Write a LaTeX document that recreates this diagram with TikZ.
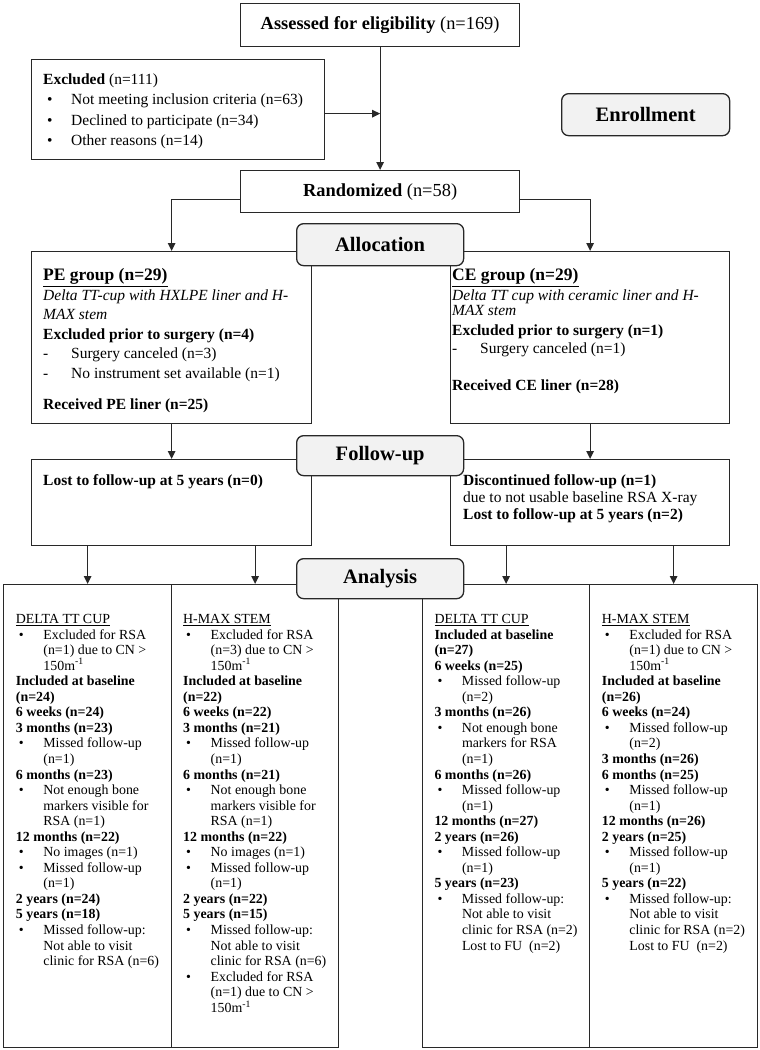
\documentclass[tikz,border=0pt]{standalone}
\usepackage{fontspec}
\setmainfont{Liberation Serif}
\usetikzlibrary{arrows.meta}
\definecolor{hdrfill}{RGB}{242,242,242}
\definecolor{ln}{RGB}{40,40,40}
\newcommand{\xb}[1]{\hspace*{4pt}\makebox[24pt][l]{\textbullet}#1}
\newcommand{\xd}[1]{\makebox[28pt][l]{-}#1}
\newcommand{\bb}[1]{\hspace*{3pt}\makebox[24.5pt][l]{\textbullet}#1}
\newcommand{\ci}[1]{\hspace*{27.5pt}#1}
\newcommand{\cnx}{150m\textsuperscript{-1}}
\begin{document}
\begin{tikzpicture}[x=1pt,y=-1pt,
 box/.style={draw=ln, line width=1.3pt, inner sep=0pt, anchor=north west},
 hdr/.style={draw=ln, line width=1.3pt, fill=hdrfill, rounded corners=7pt, anchor=north west, inner sep=0pt, font=\fontsize{20.5}{24}\selectfont\bfseries},
 arr/.style={draw=ln, line width=1.3pt, -{Triangle[length=8pt,width=7.5pt]}},
 tx/.style={anchor=north west, inner sep=0pt, align=left},
 big/.style={font=\fontsize{18.4}{22}\selectfont},
 sm/.style={font=\fontsize{13.9}{15.55}\selectfont}]
\useasboundingbox (0,0) rectangle (760,1050);

% boxes
\node[box, big, minimum width=279, minimum height=43] (assess) at (240,3) {\textbf{Assessed for eligibility} (n=169)};
\node[box, minimum width=293, minimum height=100] (excl) at (31,59) {};
\node[box, big, minimum width=279, minimum height=42] (rand) at (240,170) {\textbf{Randomized} (n=58)};
\node[box, minimum width=280, minimum height=172] (pe) at (31,251) {};
\node[box, minimum width=279, minimum height=172] (ce) at (450,251) {};
\node[box, minimum width=280, minimum height=86] (fuL) at (31,459) {};
\node[box, minimum width=279, minimum height=86] (fuR) at (450,459) {};
\node[box, minimum width=168, minimum height=463] (c1) at (3,584) {};
\node[box, minimum width=167, minimum height=463] (c2) at (171,584) {};
\node[box, minimum width=167, minimum height=463] (c3) at (422,584) {};
\node[box, minimum width=168, minimum height=463] (c4) at (589,584) {};

% connectors
\coordinate (jn) at ([yshift=-4pt]excl.east -| assess.south);
\draw[arr] (assess.south) -- (rand.north);
\draw[arr] ([yshift=-4pt]excl.east) -- (jn);
\draw[arr] ([yshift=-8pt]rand.west) -| (pe.north);
\draw[arr] ([yshift=-8pt]rand.east) -| (ce.north);
\draw[arr] (pe.south) -- (fuL.north);
\draw[arr] (ce.south) -- (fuR.north);
\draw[arr] (c1.north |- fuL.south) -- (c1.north);
\draw[arr] (c2.north |- fuL.south) -- (c2.north);
\draw[arr] (c3.north |- fuR.south) -- (c3.north);
\draw[arr] (c4.north |- fuR.south) -- (c4.north);

% texts
\node[tx, font=\fontsize{15.5}{20.5}\selectfont] (exT) at (43,73.2) {\textbf{Excluded} (n=111)\\
 \xb{Not meeting inclusion criteria (n=63)}\\
 \xb{Declined to participate (n=34)}\\
 \xb{Other reasons (n=14)}};

\node[tx, font=\fontsize{15.5}{19.5}\selectfont] (peT) at (43,268.6) {{\fontsize{17.5}{19.5}\selectfont\bfseries\underline{PE group (n=29)}}\\
 \textit{Delta TT-cup with HXLPE liner and H-}\\
 \textit{MAX stem}\\
 \textbf{Excluded prior to surgery (n=4)}\\
 \xd{Surgery canceled (n=3)}\\
 \xd{No instrument set available (n=1)}\\[12pt]
 \textbf{Received PE liner (n=25)}};

\node[tx, font=\fontsize{15.5}{19}\selectfont] (ceT) at (452,268.6) {{\fontsize{17.5}{19}\selectfont\bfseries\underline{CE group (n=29)}}\\[0.3pt]
 \textit{Delta TT cup with ceramic liner and H-}\\[-4pt]
 \textit{MAX stem}\\[1pt]
 \textbf{Excluded prior to surgery (n=1)}\\[-0.7pt]
 \xd{Surgery canceled (n=1)}\\[17.7pt]
 \textbf{Received CE liner (n=28)}};

\node[tx, font=\fontsize{15.5}{19.5}\selectfont] (fuLT) at (43,474.2) {\textbf{Lost to follow-up at 5 years (n=0)}};
\node[tx, font=\fontsize{15.5}{17}\selectfont] (fuRT) at (463,474.2) {\textbf{Discontinued follow-up (n=1)}\\
 due to not usable baseline RSA X-ray\\
 \textbf{Lost to follow-up at 5 years (n=2)}};

\node[tx, sm] (c1T) at (15.7,614.1) {\underline{DELTA TT CUP}\\
 \bb{Excluded for RSA}\\
 \ci{(n=1) due to CN >}\\
 \ci{\cnx}\\
 \textbf{Included at baseline}\\
 \textbf{(n=24)}\\
 \textbf{6 weeks (n=24)}\\
 \textbf{3 months (n=23)}\\
 \bb{Missed follow-up}\\
 \ci{(n=1)}\\
 \textbf{6 months (n=23)}\\
 \bb{Not enough bone}\\
 \ci{markers visible for}\\
 \ci{RSA (n=1)}\\
 \textbf{12 months (n=22)}\\
 \bb{No images (n=1)}\\
 \bb{Missed follow-up}\\
 \ci{(n=1)}\\
 \textbf{2 years (n=24)}\\
 \textbf{5 years (n=18)}\\
 \bb{Missed follow-up:}\\
 \ci{Not able to visit}\\
 \ci{clinic for RSA (n=6)}};

\node[tx, sm] (c2T) at (183,614.1) {\underline{H-MAX STEM}\\
 \bb{Excluded for RSA}\\
 \ci{(n=3) due to CN >}\\
 \ci{\cnx}\\
 \textbf{Included at baseline}\\
 \textbf{(n=22)}\\
 \textbf{6 weeks (n=22)}\\
 \textbf{3 months (n=21)}\\
 \bb{Missed follow-up}\\
 \ci{(n=1)}\\
 \textbf{6 months (n=21)}\\
 \bb{Not enough bone}\\
 \ci{markers visible for}\\
 \ci{RSA (n=1)}\\
 \textbf{12 months (n=22)}\\
 \bb{No images (n=1)}\\
 \bb{Missed follow-up}\\
 \ci{(n=1)}\\
 \textbf{2 years (n=22)}\\
 \textbf{5 years (n=15)}\\
 \bb{Missed follow-up:}\\
 \ci{Not able to visit}\\
 \ci{clinic for RSA (n=6)}\\
 \bb{Excluded for RSA}\\
 \ci{(n=1) due to CN >}\\
 \ci{\cnx}};

\node[tx, sm] (c3T) at (434.3,614.1) {\underline{DELTA TT CUP}\\
 \textbf{Included at baseline}\\
 \textbf{(n=27)}\\
 \textbf{6 weeks (n=25)}\\
 \bb{Missed follow-up}\\
 \ci{(n=2)}\\
 \textbf{3 months (n=26)}\\
 \bb{Not enough bone}\\
 \ci{markers for RSA}\\
 \ci{(n=1)}\\
 \textbf{6 months (n=26)}\\
 \bb{Missed follow-up}\\
 \ci{(n=1)}\\
 \textbf{12 months (n=27)}\\
 \textbf{2 years (n=26)}\\
 \bb{Missed follow-up}\\
 \ci{(n=1)}\\
 \textbf{5 years (n=23)}\\
 \bb{Missed follow-up:}\\
 \ci{Not able to visit}\\
 \ci{clinic for RSA (n=2)}\\
 \ci{Lost to FU\ \ (n=2)}};

\node[tx, sm] (c4T) at (601.7,614.1) {\underline{H-MAX STEM}\\
 \bb{Excluded for RSA}\\
 \ci{(n=1) due to CN >}\\
 \ci{\cnx}\\
 \textbf{Included at baseline}\\
 \textbf{(n=26)}\\
 \textbf{6 weeks (n=24)}\\
 \bb{Missed follow-up}\\
 \ci{(n=2)}\\
 \textbf{3 months (n=26)}\\
 \textbf{6 months (n=25)}\\
 \bb{Missed follow-up}\\
 \ci{(n=1)}\\
 \textbf{12 months (n=26)}\\
 \textbf{2 years (n=25)}\\
 \bb{Missed follow-up}\\
 \ci{(n=1)}\\
 \textbf{5 years (n=22)}\\
 \bb{Missed follow-up:}\\
 \ci{Not able to visit}\\
 \ci{clinic for RSA (n=2)}\\
 \ci{Lost to FU\ \ (n=2)}};

% stage headers
\node[hdr, minimum width=168, minimum height=42] (enroll) at (561,93) {Enrollment};
\node[hdr, minimum width=167, minimum height=42] (alloc) at (296,223) {Allocation};
\node[hdr, minimum width=167, minimum height=40] (follow) at (296,435) {Follow-up};
\node[hdr, minimum width=167, minimum height=40] (analysis) at (296,558) {Analysis};
\end{tikzpicture}
\end{document}
